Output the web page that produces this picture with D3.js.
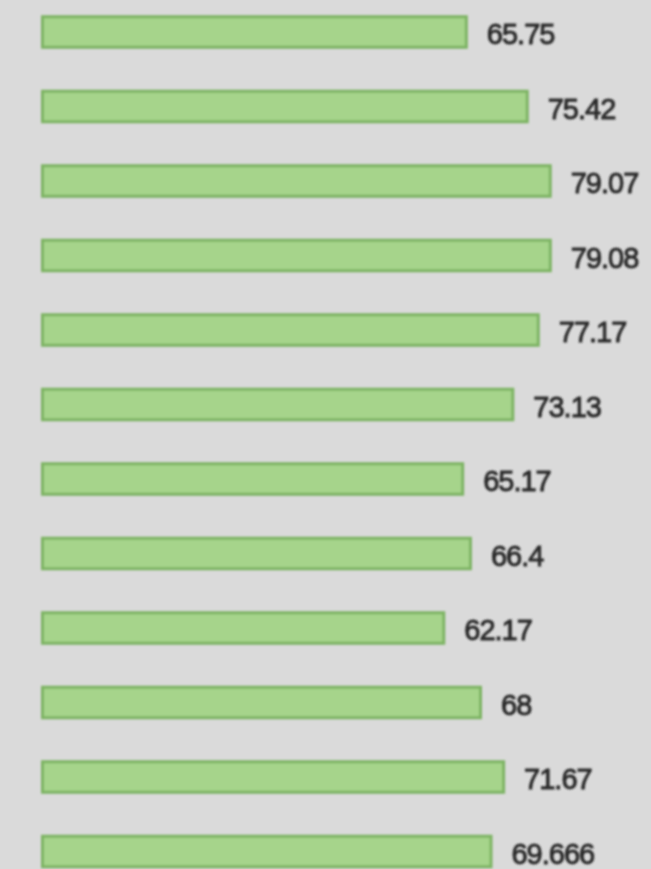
<!DOCTYPE html>
<html>
<head>
<meta charset="utf-8">
<script src="https://cdn.jsdelivr.net/npm/d3@7"></script>
<style>
  html, body { margin: 0; padding: 0; background: #dadada; }
  svg { display: block; }
</style>
</head>
<body>
<div id="chart"></div>
<script>
// Row identifiers, top to bottom
const categories = ["r1", "r2", "r3", "r4", "r5", "r6", "r7", "r8", "r9", "r10", "r11", "r12"];
// Bar values
const values = [65.75, 75.42, 79.07, 79.08, 77.17, 73.13, 65.17, 66.4, 62.17, 68, 71.67, 69.666];
// Value labels as printed beside each bar
const valueLabels = ["65.75", "75.42", "79.07", "79.08", "77.17", "73.13", "65.17", "66.4", "62.17", "68", "71.67", "69.666"];

const W = 651, H = 869;

const svg = d3.select("#chart").append("svg")
  .attr("width", W).attr("height", H);

svg.append("rect").attr("width", W).attr("height", H).attr("fill", "#dadada");

const defs = svg.append("defs");
defs.append("filter").attr("id", "soft")
  .attr("x", "-5%").attr("y", "-20%").attr("width", "110%").attr("height", "140%")
  .append("feGaussianBlur").attr("stdDeviation", 0.8);

const x = d3.scaleLinear().domain([-2, 100]).range([41, 683.6]);
const y = d3.scaleBand().domain(categories)
  .range([-5.25, -5.25 + 12 * 74.5])
  .paddingInner(0.55).paddingOuter(0.275);

const g = svg.append("g").attr("filter", "url(#soft)");

const rows = categories.map((c, i) => ({ c, v: values[i], t: valueLabels[i] }));

g.selectAll("rect.bar").data(rows).join("rect")
  .attr("class", "bar")
  .attr("x", x(x.domain()[0]) + 1.5)
  .attr("y", d => y(d.c) + 1.5)
  .attr("width", d => x(d.v) - x(x.domain()[0]) - 3)
  .attr("height", y.bandwidth() - 3)
  .attr("fill", "#a6d48b")
  .attr("stroke", "#7db464")
  .attr("stroke-width", 3);

g.selectAll("text.val").data(rows).join("text")
  .attr("class", "val")
  .attr("x", d => x(d.v) + 19)
  .attr("y", d => y(d.c) + y.bandwidth() / 2 + 2)
  .attr("dy", "0.36em")
  .attr("font-family", "'Liberation Sans', Arial, sans-serif")
  .attr("font-size", 29)
  .attr("letter-spacing", -1)
  .attr("fill", "#2a2a2a")
  .attr("stroke", "#2a2a2a")
  .attr("stroke-width", 0.9)
  .text(d => d.t);
</script>
</body>
</html>
